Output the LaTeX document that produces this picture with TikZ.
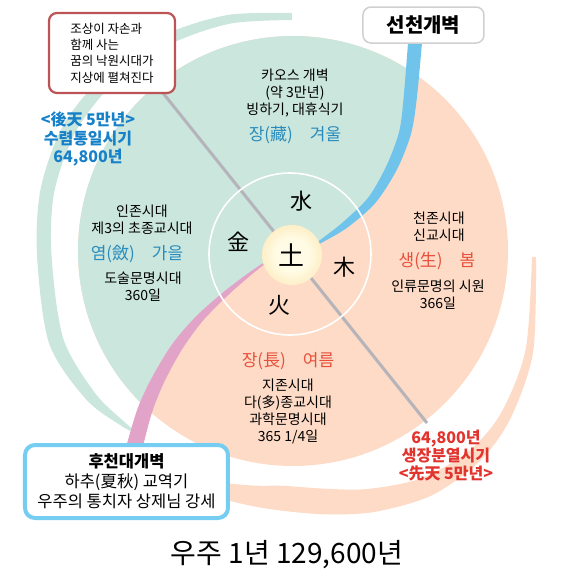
\documentclass[tikz,border=0pt]{standalone}
\usepackage{fontspec}
\setmainfont{Noto Sans CJK KR}
\usepackage{tikz}
\usetikzlibrary{calc,shapes,positioning}

\definecolor{mint}{RGB}{203,230,220}
\definecolor{peach}{RGB}{253,219,198}
\definecolor{bandblue}{RGB}{112,196,236}
\definecolor{bandpink}{RGB}{226,163,200}
\definecolor{linegray}{RGB}{180,180,186}
\definecolor{boxred}{RGB}{188,84,86}
\definecolor{boxgray}{RGB}{208,208,208}
\definecolor{boxblue}{RGB}{118,205,242}
\definecolor{txtblue}{RGB}{22,128,200}
\definecolor{txtred}{RGB}{226,52,46}
\definecolor{seasonblue}{RGB}{40,140,190}
\definecolor{seasonred}{RGB}{232,80,60}
\definecolor{suninner}{RGB}{255,251,228}
\definecolor{sunouter}{RGB}{250,212,135}
\pgfdeclareradialshading{sunshade}{\pgfpoint{0bp}{0bp}}{color(0bp)=(suninner); color(14bp)=(suninner); color(50bp)=(sunouter); color(100bp)=(sunouter)}

\begin{document}
\begin{tikzpicture}[x=1pt,y=1pt]
  \tikzstyle{txt} = [align=center, inner sep=0pt, font=\fontsize{14}{17.2}\selectfont]
  \tikzstyle{season} = [inner sep=0pt, font=\fontsize{17}{18}\selectfont]
  \tikzstyle{side} = [align=center, inner sep=0pt, font=\bfseries\fontsize{16}{18.3}\selectfont]
  \tikzstyle{elem} = [inner sep=0pt, font=\fontsize{22}{22}\selectfont]
  \tikzstyle{tbox} = [draw, fill=white, rounded corners=8pt, align=center]

  \useasboundingbox (-292,-319) rectangle (277,255);

  \fill[mint] plot[smooth] coordinates {(90:242) (105:248.5) (120:254.5) (135:260) (150:263) (165:260) (180:255) (200:258.5) (215:251.5) (225:241.5) (229:236.75)}
    -- plot[smooth] coordinates {(229:235.25) (225:236.5) (215:240.5) (200:243.5) (180:240.5) (165:246) (150:249) (135:248) (120:243.5) (105:239.5) (90:235)} -- cycle;
  \fill[peach] plot[smooth] coordinates {(-0.5:244) (-22:260) (-37:273) (-48:279) (-60:278) (-72:270) (-82:262) (-92:256) (-100:254) (-110:254) (-120:254)}
    -- plot[smooth] coordinates {(-120:244) (-110:240) (-100:234) (-92:231) (-82:236) (-72:246) (-60:258) (-48:264) (-37:262) (-22:252) (-0.5:240)} -- cycle;

  \fill[peach] (1,4) circle (215);
  \begin{scope}
    \clip (1,4) circle (215);
    \fill[mint] plot[smooth] coordinates {(123,260) (123,212) (118,155) (113,122) (100,88) (80,55) (53,30) (28,13) (0,0) (-30,-10) (-62,-35) (-92,-63) (-115,-92) (-134,-125) (-147,-155) (-157,-190) (-162,-240)}
      -- (-300,-240) -- (-300,260) -- cycle;
  \end{scope}

  \coordinate (gtop) at (-129,162);
  \coordinate (gbot) at (135,-168);
  \draw[linegray, line width=3pt] (gtop) -- (gbot);

  \fill[bandblue] plot[smooth] coordinates {(116,216) (116,212) (111.5,156) (107.2,123.6) (95,90.4) (76.5,57.8) (50.8,32.7) (27.2,14.2) (15,5)}
    -- plot[smooth] coordinates {(15,5) (28.8,11.8) (55.2,27.3) (83.5,52.2) (105,85.6) (118.8,120.4) (124.5,154) (130,212) (130,216)} -- cycle;
  \fill[bandpink] plot[smooth] coordinates {(-15,-3) (-30.6,-9.2) (-63.6,-33.1) (-94.9,-60.3) (-119.6,-88.9) (-139.8,-122.1) (-154,-152.5) (-164.8,-188) (-168,-203)}
    -- plot[smooth] coordinates {(-152,-207) (-149.2,-192) (-140,-157.5) (-128.2,-127.9) (-110.4,-95.1) (-89.1,-65.7) (-60.4,-36.9) (-29.4,-10.8) (-15,-3)} -- cycle;

  \draw[white, line width=1.6pt] (-2,1) circle (81);
  \node[circle, minimum size=60pt, inner sep=0pt, shading=sunshade, font=\fontsize{26}{26}\selectfont] (earth) at (0,0) {土};

  \node[elem] (water) at (10,54) {水};
  \node[elem] (metal) at (-53,13) {金};
  \node[elem] (wood) at (53,-12) {木};
  \node[elem] (fire) at (-12,-50) {火};

  \node[txt] (chaos) at (3,162) {카오스 개벽\\(약 3만년)\\빙하기, 대휴식기};
  \node[season, text=seasonblue] (winter) at (3,120) {장(藏)\quad 겨울};
  \node[txt] (human) at (-150,35.5) {인존시대\\제3의 초종교시대};
  \node[season, text=seasonblue] (autumn) at (-155,1) {염(斂)\quad 가을};
  \node[txt] (dao) at (-149,-31.5) {도술문명시대\\360일};
  \node[txt] (heaven) at (147,28.5) {천존시대\\신교시대};
  \node[season, text=seasonred] (spring) at (145,-6) {생(生)\quad 봄};
  \node[txt] (origin) at (146,-40) {인류문명의 시원\\366일};
  \node[season, text=seasonred] (summer) at (-4,-106) {장(長)\quad 여름};
  \node[txt] (earthera) at (-4,-156.5) {지존시대\\다(多)종교시대\\과학문명시대\\365 1/4일};

  \node[side, text=txtblue] (later) at (-204,116) {<後天 5만년>\\수렴통일시기\\64,800년};
  \node[side, text=txtred] (former) at (154,-200.7) {64,800년\\생장분열시기\\<先天 5만년>};

  \node[tbox, draw=boxred, line width=2.2pt, minimum width=126pt, minimum height=80pt, align=left, font=\fontsize{12.5}{16.3}\selectfont] (dream) at (-180,202) {조상이 자손과\\함께 사는\\꿈의 낙원시대가\\지상에 펼쳐진다};
  \node[tbox, draw=boxgray, line width=1.5pt, minimum width=121pt, minimum height=36pt, font=\bfseries\fontsize{20}{20}\selectfont] (sunbox) at (131.5,230) {선천개벽};
  \node[tbox, draw=boxblue, line width=4pt, rounded corners=10pt, minimum width=203pt, minimum height=73pt, font=\fontsize{16.5}{20}\selectfont] (hubox) at (-165.5,-226.5) {\textbf{후천대개벽}\\하추(夏秋) 교역기\\우주의 통치자 상제님 강세};

  \node[font=\fontsize{28}{28}\selectfont] (title) at (-5,-300) {우주 1년 129,600년};
\end{tikzpicture}
\end{document}
